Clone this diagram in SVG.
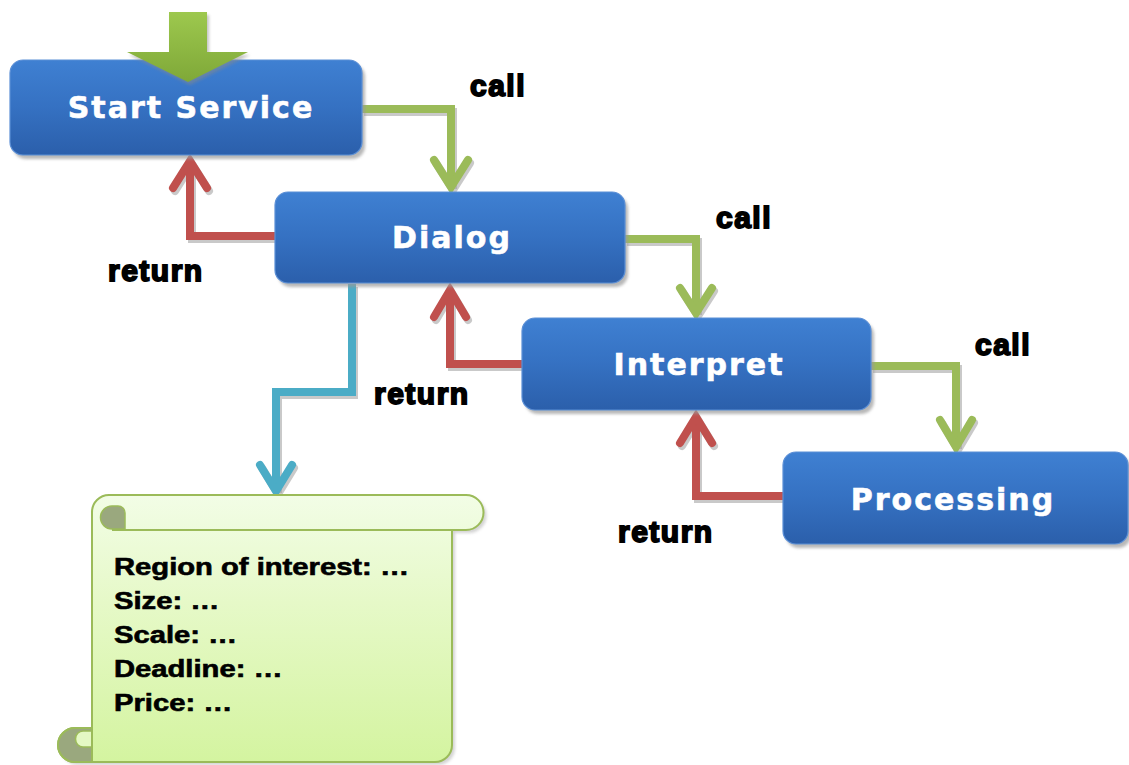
<svg xmlns="http://www.w3.org/2000/svg" width="1129" height="765" viewBox="0 0 1129 765">
<defs>
<linearGradient id="gBlue" x1="0" y1="0" x2="0" y2="1">
<stop offset="0" stop-color="#3f80d2"/>
<stop offset="0.5" stop-color="#3571c2"/>
<stop offset="1" stop-color="#2b5fab"/>
</linearGradient>
<linearGradient id="gGreenArrow" x1="0" y1="0" x2="0" y2="1">
<stop offset="0" stop-color="#9dc84e"/>
<stop offset="1" stop-color="#7fa838"/>
</linearGradient>
<linearGradient id="gScroll" x1="0" y1="0" x2="0" y2="1">
<stop offset="0" stop-color="#f2fde6"/>
<stop offset="0.4" stop-color="#e6f9c8"/>
<stop offset="1" stop-color="#d4f4a0"/>
</linearGradient>
<filter id="soft" x="-10%" y="-10%" width="120%" height="130%">
<feGaussianBlur stdDeviation="1.5"/>
</filter>
</defs>
<style>
.box{fill:url(#gBlue);stroke:#5b8fd6;stroke-width:1.2}
.boxShadow{fill:#9a9a9a;opacity:0.7}
.boxText{font-family:"DejaVu Sans",Verdana,sans-serif;font-weight:bold;font-size:30px;fill:#ffffff;stroke:#ffffff;stroke-width:0.6px;letter-spacing:2px;text-anchor:middle}
.lbl{font-family:"Liberation Sans",Arial,sans-serif;font-weight:bold;font-size:30px;fill:#000;stroke:#000;stroke-width:1.8px;letter-spacing:1.5px}
.note{font-family:"Liberation Sans",Arial,sans-serif;font-weight:bold;font-size:23px;fill:#000;stroke:#000;stroke-width:0.6px}
.ln{fill:none;stroke-width:8;stroke-linejoin:miter}
.hd{fill:none;stroke-width:8;stroke-linejoin:miter;stroke-linecap:round}
.sh{stroke:#9c9c9c;opacity:0.55}
.g{stroke:#9bbb59}
.r{stroke:#c0504d}
.c{stroke:#4bacc6}
.scrollLine{fill:none;stroke:#9bbb59;stroke-width:2}
.curl{fill:#9aa87e;stroke:#9bbb59;stroke-width:1.5}
</style>
<rect width="1129" height="765" fill="#ffffff"/>

<g id="connectors">
  <g transform="translate(2,3)">
    <path class="ln sh" d="M362 109 H451 V186"/>
    <path class="hd sh" d="M434 160 L451 187 L468 160"/>
    <path class="ln sh" d="M625 239 H696 V312"/>
    <path class="hd sh" d="M680 288 L696 313 L712 288"/>
    <path class="ln sh" d="M871 366 H956 V446"/>
    <path class="hd sh" d="M940 420 L956 447 L972 420"/>
    <path class="ln sh" d="M275 236 H190 V162"/>
    <path class="hd sh" d="M173 188 L190 161 L207 188"/>
    <path class="ln sh" d="M522 364 H450 V291"/>
    <path class="hd sh" d="M434 317 L450 290 L466 317"/>
    <path class="ln sh" d="M783 496 H696 V418"/>
    <path class="hd sh" d="M680 443 L696 417 L712 443"/>
    <path class="ln sh" d="M352 284 V392 H276 V490"/>
    <path class="hd sh" d="M260 465 L276 491 L292 465"/>
  </g>
  <path class="ln g" d="M362 109 H451 V186"/>
  <path class="hd g" d="M434 160 L451 187 L468 160"/>
  <path class="ln g" d="M625 239 H696 V312"/>
  <path class="hd g" d="M680 288 L696 313 L712 288"/>
  <path class="ln g" d="M871 366 H956 V446"/>
  <path class="hd g" d="M940 420 L956 447 L972 420"/>
  <path class="ln r" d="M275 236 H190 V162"/>
  <path class="hd r" d="M173 188 L190 161 L207 188"/>
  <path class="ln r" d="M522 364 H450 V291"/>
  <path class="hd r" d="M434 317 L450 290 L466 317"/>
  <path class="ln r" d="M783 496 H696 V418"/>
  <path class="hd r" d="M680 443 L696 417 L712 443"/>
  <path class="ln c" d="M352 284 V392 H276 V490"/>
  <path class="hd c" d="M260 465 L276 491 L292 465"/>
</g>

<g id="labels">
  <text class="lbl" x="470" y="96">call</text>
  <text class="lbl" x="716" y="228">call</text>
  <text class="lbl" x="975" y="355">call</text>
  <text class="lbl" x="108" y="281">return</text>
  <text class="lbl" x="374" y="404">return</text>
  <text class="lbl" x="618" y="542">return</text>
</g>

<g id="start-service">
  <rect class="boxShadow" x="13" y="64" width="352" height="95" rx="13" filter="url(#soft)"/>
  <rect class="box" x="10" y="60" width="352" height="95" rx="13"/>
  <text class="boxText" x="191" y="118">Start Service</text>
</g>

<g id="entry-arrow">
  <polygon points="171,15 209,15 209,55 250,55 190,85 129,55 171,55" fill="#8a8a8a" opacity="0.5" filter="url(#soft)"/>
  <polygon points="169,12 207,12 207,52 248,52 188,82 127,52 169,52" fill="url(#gGreenArrow)"/>
</g>

<g id="dialog">
  <rect class="boxShadow" x="278" y="196" width="350" height="91" rx="13" filter="url(#soft)"/>
  <rect class="box" x="275" y="192" width="350" height="91" rx="13"/>
  <text class="boxText" x="452" y="248">Dialog</text>
</g>

<g id="interpret">
  <rect class="boxShadow" x="525" y="322" width="349" height="92" rx="13" filter="url(#soft)"/>
  <rect class="box" x="522" y="318" width="349" height="92" rx="13"/>
  <text class="boxText" x="699" y="375">Interpret</text>
</g>

<g id="processing">
  <rect class="boxShadow" x="786" y="456" width="345" height="92" rx="13" filter="url(#soft)"/>
  <rect class="box" x="783" y="452" width="345" height="92" rx="13"/>
  <text class="boxText" x="953" y="510">Processing</text>
</g>

<g id="note">
  <path d="M112 498 L469 498 A17.5 17.5 0 0 1 469 533 L455 533 L455 748 A17 17 0 0 1 438 765 L78 765 A17 17 0 0 1 78 731 L95 731 L95 515 A17 17 0 0 1 112 498 Z" fill="#a8a8a8" opacity="0.5" filter="url(#soft)"/>
  <path d="M109 495 L466 495 A17.5 17.5 0 0 1 466 530 L452 530 L452 745 A17 17 0 0 1 435 762 L75 762 A17 17 0 0 1 75 728 L92 728 L92 512 A17 17 0 0 1 109 495 Z" fill="url(#gScroll)" stroke="#9bbb59" stroke-width="2"/>
  <path class="curl" d="M125 529 H112 A11.5 11.5 0 0 1 112 506 H118 A7 7 0 0 1 125 513 Z"/>
  <path class="scrollLine" d="M112 530 L452 530"/>
  <path d="M92 728 L75 728 A17 17 0 0 0 75 762 L92 762 Z" fill="#9aa87e"/>
  <path d="M92 747 H83 A7.5 8 0 0 1 83 731 H92" fill="#e4f8c4" stroke="#9bbb59" stroke-width="1.5"/>
  <path class="scrollLine" d="M92 728 L75 728 A17 17 0 0 0 75 762 L435 762"/>
  <path class="scrollLine" d="M92 512 L92 762"/>
  <g transform="translate(114,0) scale(1.27,1)">
    <text class="note" x="0" y="575">Region of interest: …</text>
    <text class="note" x="0" y="609">Size: …</text>
    <text class="note" x="0" y="643">Scale: …</text>
    <text class="note" x="0" y="677">Deadline: …</text>
    <text class="note" x="0" y="711">Price: …</text>
  </g>
</g>
</svg>
